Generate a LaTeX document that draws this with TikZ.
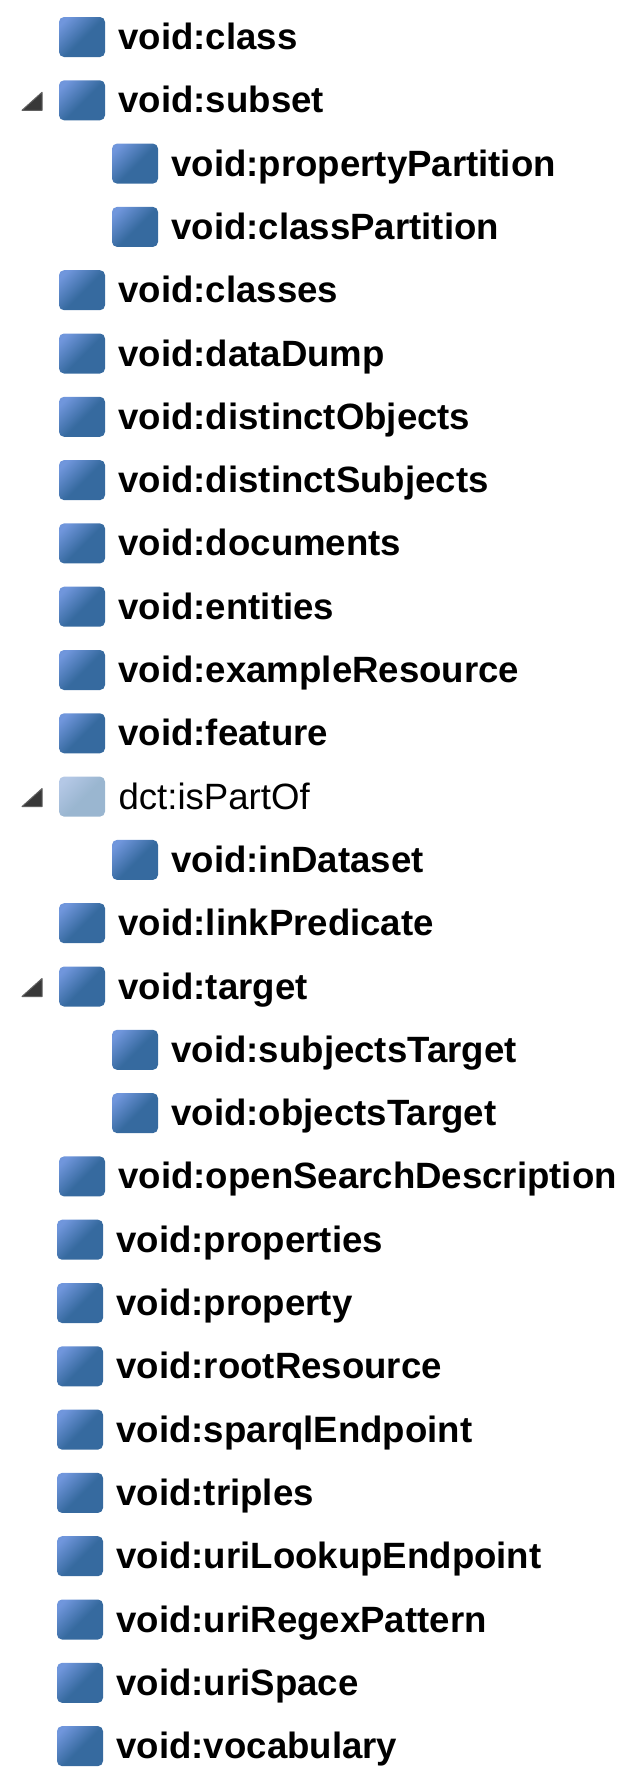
\documentclass[tikz,border=0pt]{standalone}
\usepackage{fontspec}
\setmainfont{Liberation Sans}
\usepackage{xcolor}
\usetikzlibrary{positioning}
\definecolor{iconmain}{HTML}{366A9F}
\definecolor{iconlight}{HTML}{7096DC}
\definecolor{fadedmain}{HTML}{9AB6D0}
\definecolor{fadedlight}{HTML}{B4C8E6}
\pgfdeclarehorizontalshading{iconshade}{100bp}{color(0bp)=(iconlight); color(22bp)=(iconlight); color(52bp)=(iconmain); color(100bp)=(iconmain)}
\pgfdeclarehorizontalshading{fadedshade}{100bp}{color(0bp)=(fadedlight); color(22bp)=(fadedlight); color(52bp)=(fadedmain); color(100bp)=(fadedmain)}
\tikzset{
  prop/.style={rectangle, rounded corners=5pt, inner sep=0pt, outer sep=0pt,
               minimum width=46pt, minimum height=40pt, draw=none,
               shading=iconshade, shading angle=-45},
  annot/.style={prop, shading=fadedshade, shading angle=-45},
  proptxt/.style={rectangle, inner sep=0pt, outer sep=0pt,
               text height=32pt, text depth=7pt, font=\fontsize{36.6}{36.6}\selectfont},
  twistie/.style={fill=black!78, draw=black!62, line width=1pt, line join=round},
}
\begin{document}
\begin{tikzpicture}[x=1pt, y=1pt, node distance=23.3pt and 13.5pt]
  \useasboundingbox (0,0) rectangle (636,-1788);
  \node[prop] (class) at (82,-37) {};
  \node[prop, below=of class] (subset) {};
  \node[prop, below=of subset, xshift=53pt] (proppart) {};
  \node[prop, below=of proppart] (classpart) {};
  \node[prop, below=of classpart, xshift=-53pt] (classes) {};
  \node[prop, below=of classes] (datadump) {};
  \node[prop, below=of datadump] (distobj) {};
  \node[prop, below=of distobj] (distsubj) {};
  \node[prop, below=of distsubj] (documents) {};
  \node[prop, below=of documents] (entities) {};
  \node[prop, below=of entities] (example) {};
  \node[prop, below=of example] (feature) {};
  \node[annot, below=of feature] (ispartof) {};
  \node[prop, below=of ispartof, xshift=53pt] (indataset) {};
  \node[prop, below=of indataset, xshift=-53pt] (linkpred) {};
  \node[prop, below=of linkpred] (target) {};
  \node[prop, below=of target, xshift=53pt] (subjtarget) {};
  \node[prop, below=of subjtarget] (objtarget) {};
  \node[prop, below=of objtarget, xshift=-53pt] (opensearch) {};
  \node[prop, below=of opensearch, xshift=-2pt] (properties) {};
  \node[prop, below=of properties] (property) {};
  \node[prop, below=of property] (rootres) {};
  \node[prop, below=of rootres] (sparql) {};
  \node[prop, below=of sparql] (triples) {};
  \node[prop, below=of triples] (urilookup) {};
  \node[prop, below=of urilookup] (uriregex) {};
  \node[prop, below=of uriregex] (urispace) {};
  \node[prop, below=of urispace] (vocabulary) {};

  \node[proptxt, right=of class] (classtxt) {\textbf{void:class}};
  \node[proptxt, right=of subset] (subsettxt) {\textbf{void:subset}};
  \node[proptxt, right=of proppart] (propparttxt) {\textbf{void:propertyPartition}};
  \node[proptxt, right=of classpart] (classparttxt) {\textbf{void:classPartition}};
  \node[proptxt, right=of classes] (classestxt) {\textbf{void:classes}};
  \node[proptxt, right=of datadump] (datadumptxt) {\textbf{void:dataDump}};
  \node[proptxt, right=of distobj] (distobjtxt) {\textbf{void:distinctObjects}};
  \node[proptxt, right=of distsubj] (distsubjtxt) {\textbf{void:distinctSubjects}};
  \node[proptxt, right=of documents] (documentstxt) {\textbf{void:documents}};
  \node[proptxt, right=of entities] (entitiestxt) {\textbf{void:entities}};
  \node[proptxt, right=of example] (exampletxt) {\textbf{void:exampleResource}};
  \node[proptxt, right=of feature] (featuretxt) {\textbf{void:feature}};
  \node[proptxt, right=of ispartof] (ispartoftxt) {dct:isPartOf};
  \node[proptxt, right=of indataset] (indatasettxt) {\textbf{void:inDataset}};
  \node[proptxt, right=of linkpred] (linkpredtxt) {\textbf{void:linkPredicate}};
  \node[proptxt, right=of target] (targettxt) {\textbf{void:target}};
  \node[proptxt, right=of subjtarget] (subjtargettxt) {\textbf{void:subjectsTarget}};
  \node[proptxt, right=of objtarget] (objtargettxt) {\textbf{void:objectsTarget}};
  \node[proptxt, right=of opensearch] (opensearchtxt) {\textbf{void:openSearchDescription}};
  \node[proptxt, right=of properties] (propertiestxt) {\textbf{void:properties}};
  \node[proptxt, right=of property] (propertytxt) {\textbf{void:property}};
  \node[proptxt, right=of rootres] (rootrestxt) {\textbf{void:rootResource}};
  \node[proptxt, right=of sparql] (sparqltxt) {\textbf{void:sparqlEndpoint}};
  \node[proptxt, right=of triples] (triplestxt) {\textbf{void:triples}};
  \node[proptxt, right=of urilookup] (urilookuptxt) {\textbf{void:uriLookupEndpoint}};
  \node[proptxt, right=of uriregex] (uriregextxt) {\textbf{void:uriRegexPattern}};
  \node[proptxt, right=of urispace] (urispacetxt) {\textbf{void:uriSpace}};
  \node[proptxt, right=of vocabulary] (vocabularytxt) {\textbf{void:vocabulary}};

  % expanded markers
  \filldraw[twistie] ([xshift=-17pt,yshift=-10pt]subset.west) -- ++(-20,0) -- ++(20,18) -- cycle;
  \filldraw[twistie] ([xshift=-17pt,yshift=-10pt]ispartof.west) -- ++(-20,0) -- ++(20,18) -- cycle;
  \filldraw[twistie] ([xshift=-17pt,yshift=-10pt]target.west) -- ++(-20,0) -- ++(20,18) -- cycle;
\end{tikzpicture}
\end{document}
